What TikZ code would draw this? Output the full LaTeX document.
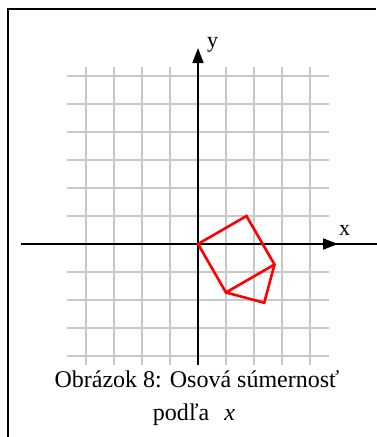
\documentclass[tikz,border=0pt]{standalone}
\usepackage{fontspec}
\setmainfont{Liberation Serif}
\usetikzlibrary{arrows.meta}
\definecolor{gridgray}{RGB}{200,200,200}
\begin{document}
\begin{tikzpicture}[x=1pt,y=-1pt,
  gridline/.style={line width=1.2pt, draw=gridgray},
  axisline/.style={line width=1.6pt, draw=black},
  tipstyle/.style={-{Triangle[length=15pt,width=11pt]}},
  redshape/.style={line width=2.6pt, draw=red, line join=miter},
  lab/.style={font=\fontsize{22}{26}\selectfont, inner sep=0pt},
  captext/.style={font=\fontsize{24}{28}\selectfont, inner sep=0pt}]
\useasboundingbox (0,0) rectangle (376,437);
\coordinate (fb) at (8,437);
\coordinate (fc) at (8,9);
\coordinate (fr) at (376,9);
\draw[line width=1.3pt] (fb) -- (fc) -- (fr);
\begin{scope}[shift={(198,244)}, x=28pt, y=28pt]
  \draw[gridline, step=1] (-4.68,-4.32) grid (4.68,6.32);
  \coordinate (O) at (0,0);
  \coordinate (xl) at (-6.32,0);
  \coordinate (xr) at (6.45,0);
  \coordinate (xt) at (5,0);
  \coordinate (yb) at (0,-4.32);
  \coordinate (yt) at (0,7);
  \draw[axisline] (xl) -- (xr);
  \draw[axisline, tipstyle] (O) -- (xt);
  \draw[axisline, tipstyle] (yb) -- (yt);
  \coordinate (A) at (0,0);
  \coordinate (B) at (1.732,1);
  \coordinate (C) at (2.732,-0.732);
  \coordinate (D) at (1,-1.732);
  \coordinate (E) at (2.366,-2.098);
  \draw[redshape] (A) -- (B) -- (C) -- (D) -- cycle;
  \draw[redshape] (C) -- (E) -- (D);
\end{scope}
\node[lab, anchor=base west] (ylab) at (207,47) {y};
\node[lab, anchor=base west] (xlab) at (339,235) {x};
\node[captext, anchor=base] (cap1) at (197,387) {Obrázok 8: Osová súmernosť};
\node[captext, anchor=base] (cap2) at (194,420) {podľa\hspace{15pt}\textit{x}};
\end{tikzpicture}
\end{document}
